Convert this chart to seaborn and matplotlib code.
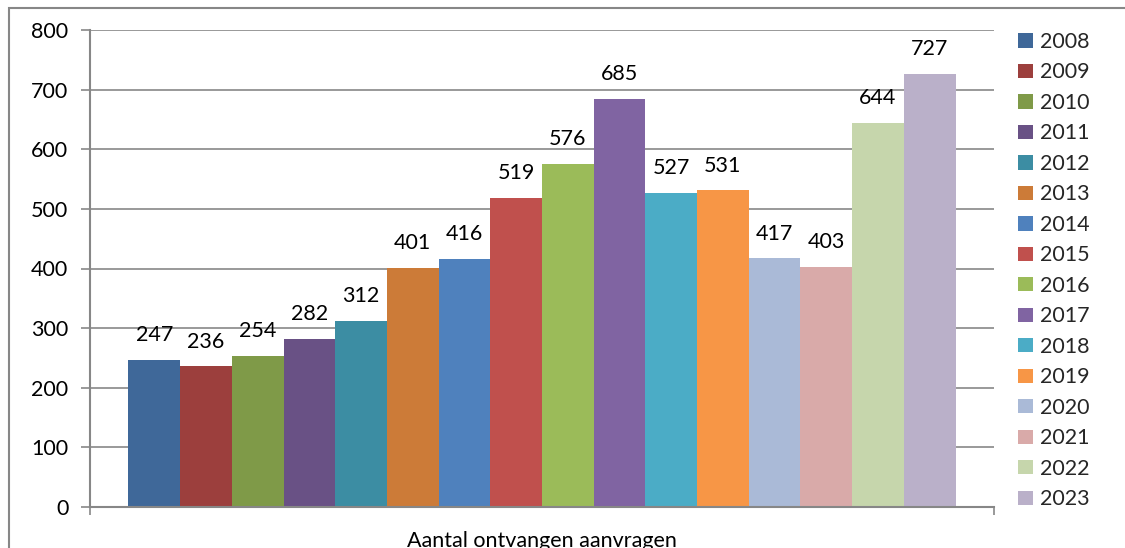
import matplotlib
matplotlib.use('Agg')
import matplotlib.pyplot as plt
from matplotlib.patches import Patch, Rectangle
import pandas as pd
import seaborn as sns

# data
categorie = 'Aantal ontvangen aanvragen'
jaren = ['2008', '2009', '2010', '2011', '2012', '2013', '2014', '2015',
         '2016', '2017', '2018', '2019', '2020', '2021', '2022', '2023']
aantallen = [247, 236, 254, 282, 312, 401, 416, 519,
             576, 685, 527, 531, 417, 403, 644, 727]
kleuren = ['#3F6899', '#9C3F3D', '#7F9A48', '#695185', '#3C8DA3', '#CC7B38',
           '#4F81BD', '#C0504D', '#9BBB59', '#8064A2', '#4BACC6', '#F79646',
           '#AABAD7', '#D9AAA9', '#C6D6AC', '#BAB0C9']
y_ticks = [0, 100, 200, 300, 400, 500, 600, 700, 800]

sns.set_style('white')
plt.rcParams['font.family'] = ['Lato', 'DejaVu Sans']
FS = 15.5
GRIJS = '#878787'

df = pd.DataFrame({'cat': [categorie] * len(jaren), 'jaar': jaren, 'aantal': aantallen})

fig = plt.figure(figsize=(11.25, 5.48), dpi=100)
ax = fig.add_axes([90 / 1125, 41 / 548, (994 - 90) / 1125, (507 - 30) / 548])

sns.barplot(data=df, x='cat', y='aantal', hue='jaar', hue_order=jaren,
            palette=kleuren, width=0.915, gap=0, saturation=1,
            linewidth=0, legend=False, ax=ax)

for cont in ax.containers:
    ax.bar_label(cont, padding=10.5, fontsize=FS, color='black')

ax.set_xlim(-0.5, 0.5)
ax.set_ylim(0, 800)
ax.set_yticks(y_ticks)
ax.yaxis.grid(True, color=GRIJS, linewidth=1.2)
ax.set_axisbelow(True)

# x-as: alleen streepjes aan de randen van de categorie
ax.set_xticks([-0.5, 0.5])
ax.set_xticklabels([])
ax.set_xlabel(categorie, fontsize=FS, labelpad=8, color='black')
ax.set_ylabel('')
ax.tick_params(axis='x', length=6, width=1.2, color=GRIJS, direction='out', bottom=True)
ax.tick_params(axis='y', length=6.5, width=1.2, color=GRIJS, direction='out', left=True,
               labelsize=FS, pad=9, labelcolor='black')

for side in ['top', 'right']:
    ax.spines[side].set_visible(False)
for side in ['left', 'bottom']:
    ax.spines[side].set_color(GRIJS)
    ax.spines[side].set_linewidth(1.5)

# legenda
handles = [Patch(facecolor=k, edgecolor='none', label=j) for j, k in zip(jaren, kleuren)]
fig.legend(handles=handles, loc='upper left', bbox_to_anchor=(1018 / 1125, 1 - 32 / 548),
           frameon=False, fontsize=FS, handlelength=0.7, handleheight=0.65,
           handletextpad=0.33, labelspacing=0.487, borderpad=0, borderaxespad=0)

# buitenkader van de grafiek
fig.patches.append(Rectangle((9 / 1125, -0.1), 1.0, 0.1 + 540 / 548,
                             transform=fig.transFigure, fill=False,
                             edgecolor=GRIJS, linewidth=1.5))

fig.savefig('out.png', dpi=100)
